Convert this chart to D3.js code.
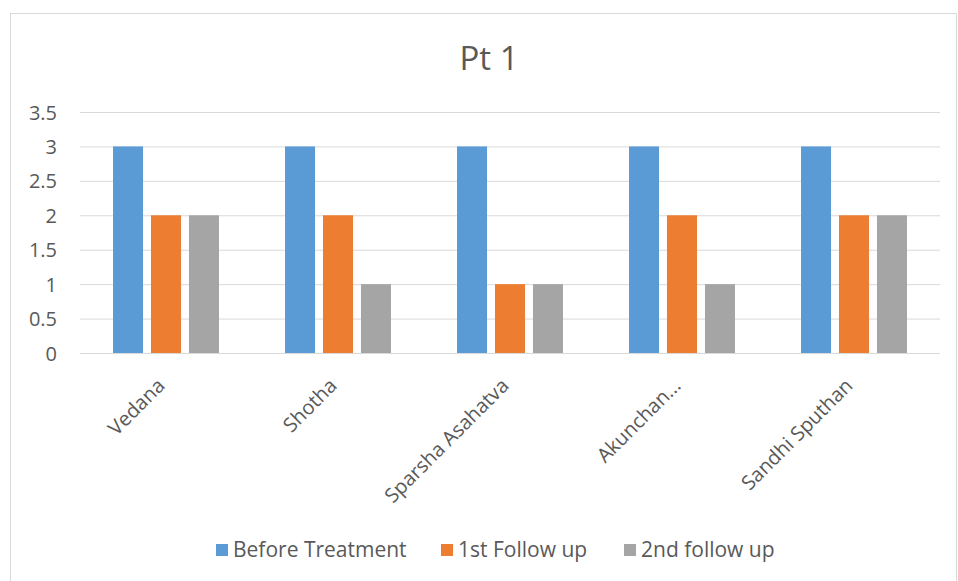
<!DOCTYPE html>
<html><head><meta charset="utf-8">
<script src="https://cdn.jsdelivr.net/npm/d3@7"></script>
<style>body{margin:0;background:#fff}svg{display:block}text{font-family:"Open Sans","Noto Sans",sans-serif;fill:#595959}</style>
</head><body><svg id="c" width="958" height="581"></svg>
<script>
const categories = ["Vedana","Shotha","Sparsha Asahatva","Akunchan...","Sandhi Sputhan"];
const seriesNames = ["Before Treatment","1st Follow up","2nd follow up"];
const beforeTreatment = [3,3,3,3,3];
const firstFollowUp = [2,2,1,2,2];
const secondFollowUp = [2,1,1,1,2];
const yTicks = [0,0.5,1,1.5,2,2.5,3,3.5];
const colors = ["#5b9bd5","#ed7d31","#a5a5a5"];
const series = [beforeTreatment, firstFollowUp, secondFollowUp];

const svg = d3.select("#c");
svg.append("rect").attr("x",10.5).attr("y",13.5).attr("width",946).attr("height",580).attr("fill","#fff").attr("stroke","#d9d9d9");

const x0 = d3.scaleBand().domain(categories).range([80,940]).paddingInner(0.384).paddingOuter(0.192);
const x1 = d3.scaleBand().domain(d3.range(3)).range([0,x0.bandwidth()]).paddingInner(0.21);
const y = d3.scaleLinear().domain([0,3.5]).range([353,112]);

svg.append("text").attr("x",489).attr("y",70).attr("text-anchor","middle").style("font-size","33px").text("Pt 1");

const yAxis = d3.axisLeft(y).tickValues(yTicks).tickSize(-860).tickFormat(d=>String(d));
const gy = svg.append("g").attr("transform","translate(80,0)").call(yAxis);
gy.select(".domain").remove();
gy.selectAll(".tick line").attr("stroke","#d9d9d9").attr("stroke-width",1);
gy.selectAll(".tick text").attr("x",-23).attr("dy","0.35em").style("font-size","20px").attr("fill","#595959");

const g = svg.append("g");
categories.forEach((c,i)=>{
  series.forEach((s,j)=>{
    g.append("rect").attr("x",x0(c)+x1(j)).attr("y",y(s[i])).attr("width",x1.bandwidth()).attr("height",y(0)-y(s[i])).attr("fill",colors[j]);
  });
});
svg.append("line").attr("x1",80).attr("x2",940).attr("y1",353.5).attr("y2",353.5).attr("stroke","#d9d9d9");

const xAxis = d3.axisBottom(x0).tickSize(0);
const gx = svg.append("g").attr("transform","translate(0,353)").call(xAxis);
gx.select(".domain").remove();
gx.selectAll(".tick text").attr("text-anchor","end").attr("dy",null).attr("y",0)
  .attr("transform","translate(0,34) rotate(-45)").style("font-size","20px").attr("fill","#595959");

const legendX = [216,441,624];
seriesNames.forEach((n,j)=>{
  svg.append("rect").attr("x",legendX[j]).attr("y",544).attr("width",12).attr("height",12).attr("fill",colors[j]);
  svg.append("text").attr("x",legendX[j]+17).attr("y",557).style("font-size","21px").text(n);
});
</script></body></html>
